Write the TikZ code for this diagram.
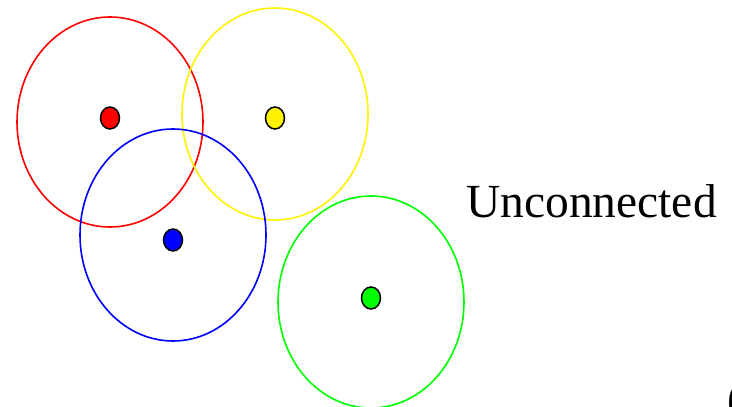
\documentclass[tikz,border=0pt]{standalone}
\usepackage{fontspec}
\setmainfont{Liberation Serif}
\usetikzlibrary{positioning}

\begin{document}
\begin{tikzpicture}[
    x=1pt, y=1pt,
    range/.style={draw=#1, line width=1.6pt},
    dot/.style={draw=black, fill=#1, line width=1.5pt},
    label/.style={font=\fontsize{47.5}{54}\selectfont, inner sep=0pt}
]
\useasboundingbox (0,0) rectangle (732,407);
\clip (0,0) rectangle (732,407);

% Coverage ranges
\draw[range=red] (110,285) ellipse (93 and 105);
\draw[range=yellow] (275,293) ellipse (93 and 106);
\draw[range=blue] (173,172) ellipse (93 and 106);
\draw[range=green] (371,105) ellipse (93 and 106);

% Sensor dots
\draw[dot=red] (110,289) ellipse (9.5 and 11);
\draw[dot=yellow] (275,289) ellipse (9.5 and 11);
\draw[dot=blue] (173,167) ellipse (9.5 and 11);
\draw[dot=green] (371,109) ellipse (9.5 and 11);

% Labels
\node[label, anchor=base west] (unc) at (466,189) {Unconnected};
\node[label, anchor=base west] (cap) at (727,-8) {(};

\end{tikzpicture}
\end{document}
